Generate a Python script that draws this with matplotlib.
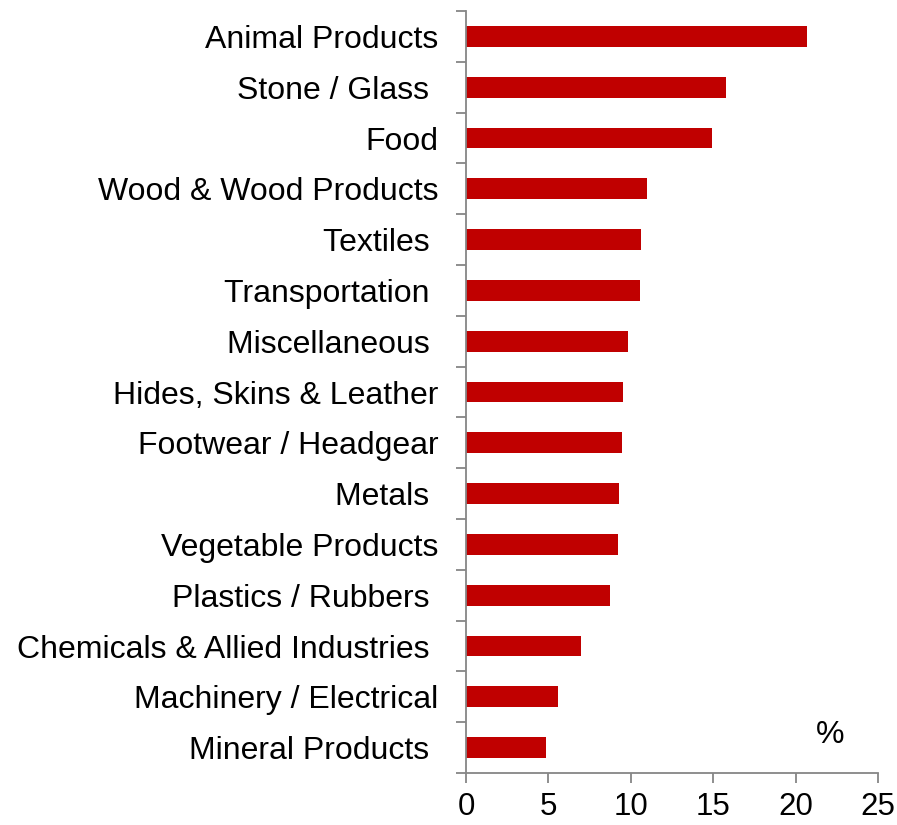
import matplotlib.pyplot as plt
import numpy as np

plt.rcParams['font.family'] = ['Liberation Sans', 'DejaVu Sans']

# sectors, top to bottom as shown
sectors = [
    "Animal Products",
    "Stone / Glass ",
    "Food",
    "Wood & Wood Products",
    "Textiles ",
    "Transportation ",
    "Miscellaneous ",
    "Hides, Skins & Leather",
    "Footwear / Headgear",
    "Metals ",
    "Vegetable Products",
    "Plastics / Rubbers ",
    "Chemicals & Allied Industries ",
    "Machinery / Electrical",
    "Mineral Products ",
]
values = [20.7, 15.8, 14.9, 11.0, 10.6, 10.55, 9.8, 9.5, 9.45, 9.3, 9.2, 8.75, 7.0, 5.57, 4.85]

fig = plt.figure(figsize=(8.97, 8.25), dpi=100)
ax = fig.add_axes([466/897, 1 - 773/825, 412/897, 762/825])

pos = np.arange(len(sectors))[::-1]
ax.barh(pos, values, height=0.41, color='#C00000', edgecolor='none')

ax.set_xlim(0, 25)
ax.set_ylim(-0.5, len(sectors) - 0.5)
ax.set_xticks([0, 5, 10, 15, 20, 25])

# category labels sit between the boundary ticks
ax.set_yticks(pos)
ax.set_yticklabels(sectors, fontsize=23)
ax.set_yticks(np.arange(len(sectors) + 1) - 0.5, minor=True)
ax.tick_params(axis='y', which='major', length=0, pad=20)
ax.tick_params(axis='y', which='minor', length=7.5, width=1.3, color='#868686')
ax.tick_params(axis='x', length=7.5, width=1.3, color='#868686', labelsize=22.5, pad=6)

for s in ['top', 'right']:
    ax.spines[s].set_visible(False)
for s in ['left', 'bottom']:
    ax.spines[s].set_color('#868686')
    ax.spines[s].set_linewidth(1.3)

ax.text(0.885, 0.05, "%", transform=ax.transAxes, fontsize=23, ha='center', va='center')

fig.savefig("out.png", dpi=100)
